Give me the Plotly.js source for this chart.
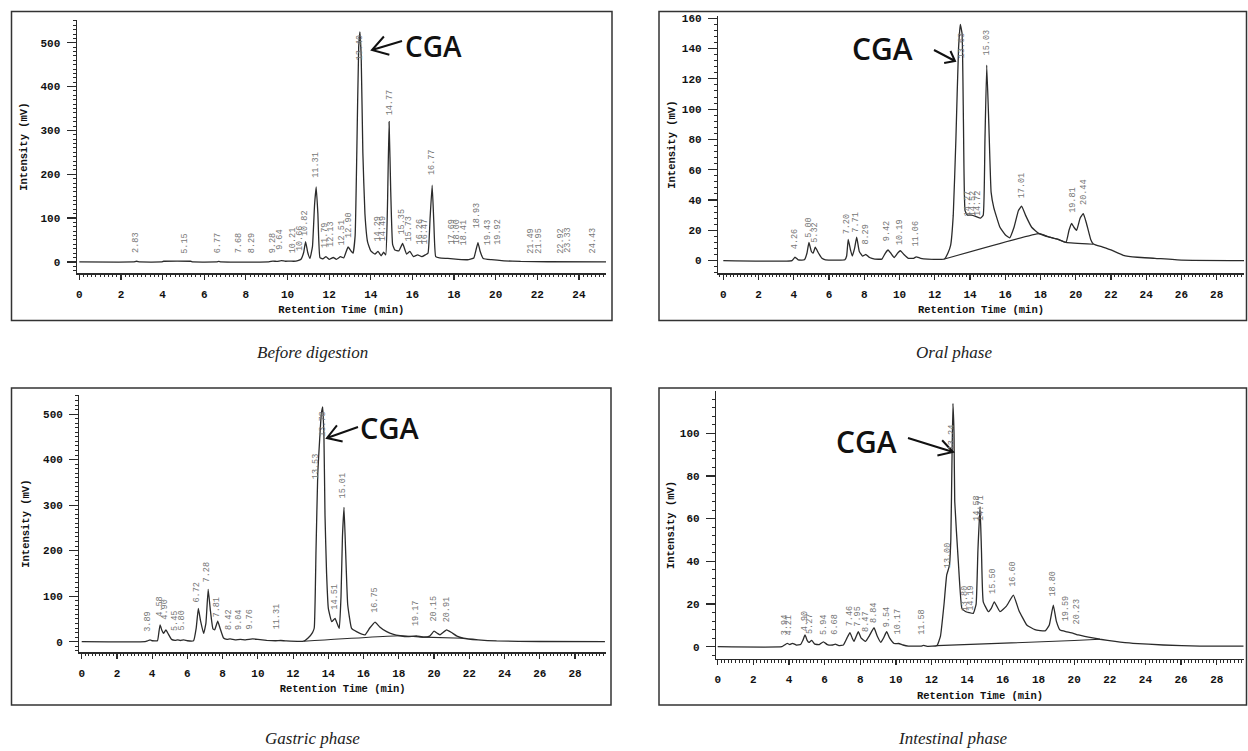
<!DOCTYPE html>
<html>
<head>
<meta charset="utf-8">
<script src="https://cdn.plot.ly/plotly-3.0.1.min.js"></script>
<style>html,body{margin:0;padding:0;background:#fff;}#chart{width:1248px;height:751px;}</style>
</head>
<body>
<div id="chart"></div>
<script>
// ---------- DATA ----------
// Before digestion
const before_t  = [0, 2.6, 2.75, 2.9, 3.95, 4.05, 5.35, 5.45, 6.6, 6.7, 6.8, 9.1, 9.3, 9.5, 9.7, 9.9, 10.1, 10.3, 10.5, 10.65, 10.78, 10.87, 10.97, 11.08, 11.2, 11.3, 11.38, 11.46, 11.56, 11.7, 11.85, 12.0, 12.2, 12.35, 12.55, 12.7, 12.91, 13.05, 13.15, 13.25, 13.33, 13.42, 13.48, 13.54, 13.62, 13.72, 13.85, 14.0, 14.2, 14.35, 14.5, 14.62, 14.72, 14.8, 14.88, 14.96, 15.05, 15.16, 15.35, 15.53, 15.72, 15.88, 16.05, 16.25, 16.45, 16.62, 16.75, 16.85, 16.95, 17.03, 17.12, 17.3, 17.7, 18.2, 18.7, 18.95, 19.07, 19.15, 19.25, 19.4, 19.8, 20.4, 21.2, 22.5, 25.3];
const before_mv = [0, 0, 1.5, 0, 0, 1.5, 1.5, 0, 0, 1, 0, 0, 2, 1, 3, 1.5, 2, 1.5, 3, 6, 22, 46, 22, 8, 35, 130, 171, 110, 10, 7, 12, 6, 10, 6, 12, 9, 34, 25, 20, 60, 250, 490, 525, 470, 250, 110, 45, 25, 18, 24, 14, 22, 16, 120, 320, 160, 40, 27, 25, 42, 18, 24, 12, 16, 12, 16, 20, 100, 175, 90, 12, 9, 8, 6, 5, 9, 30, 44, 25, 8, 5, 2.5, 1, 0.3, 0];
const before_lbl    = ["2.83","5.15","6.77","7.68","8.29","9.28","9.64","10.21","10.66","10.82","11.31","11.79","12.13","12.51","12.90","13.40","14.29","14.49","14.77","15.35","15.73","16.26","16.47","16.77","17.69","18.00","18.41","18.93","19.43","19.92","21.49","21.95","22.92","23.33","24.43"];
const before_lbl_t  = [2.75, 5.1, 6.66, 7.67, 8.29, 9.3, 9.67, 10.26, 10.6, 10.85, 11.36, 11.8, 12.1, 12.6, 12.95, 13.48, 14.35, 14.63, 14.9, 15.48, 15.84, 16.36, 16.6, 16.95, 17.88, 18.12, 18.5, 19.1, 19.64, 20.1, 21.72, 22.1, 23.16, 23.5, 24.68];
const before_lbl_mv = [15, 15, 15, 15, 15, 15, 22, 15, 20, 55, 187, 27, 30, 32, 50, 455, 42, 42, 331, 57, 42, 35, 35, 194, 34, 34, 34, 72, 34, 34, 15, 15, 15, 15, 15];

// Oral phase
const oral_t  = [0, 3.9, 4.07, 4.25, 4.6, 4.75, 4.86, 5.0, 5.1, 5.22, 5.4, 5.6, 5.8, 6.9, 7.0, 7.09, 7.22, 7.32, 7.45, 7.57, 7.72, 7.9, 8.1, 8.3, 8.6, 9.0, 9.2, 9.35, 9.5, 9.7, 9.9, 10.05, 10.25, 10.5, 10.8, 10.95, 11.2, 11.6, 12.55, 12.75, 12.9, 13.05, 13.2, 13.35, 13.45, 13.55, 13.63, 13.72, 13.85, 14.1, 14.35, 14.6, 14.75, 14.85, 14.95, 15.07, 15.2, 15.35, 15.7, 16.0, 16.25, 16.5, 16.75, 16.93, 17.15, 17.5, 17.9, 18.5, 19.0, 19.45, 19.62, 19.77, 19.9, 20.05, 20.25, 20.43, 20.6, 20.85, 21.0, 21.5, 22.0, 22.7, 23.5, 24.5, 26.0, 29.6];
const oral_mv = [0, 0, 2.2, 0.5, 0.5, 5, 12, 6, 5, 8.8, 5, 1.5, 0.5, 0.5, 3, 14, 7, 3, 8, 15.5, 6, 3, 4, 2, 1, 1, 5, 7, 5, 2, 5, 6.5, 4, 1.5, 1.5, 2.5, 1.5, 1, 1, 5, 10, 30, 80, 140, 156, 150, 90, 33, 30, 30, 29, 28, 30, 80, 129, 90, 45, 35, 22, 17, 15, 22, 33, 36, 30, 22, 18, 15.5, 14, 12, 20, 24.5, 22, 20, 28, 31, 25, 14, 11, 9, 7, 3.5, 2.2, 1.5, 0.3, 0];
const oral_base_t  = [12.55, 17.95, 18.5, 19.0, 19.45, 21.0];
const oral_base_mv = [1, 17.8, 15.5, 14, 12, 10.8];
const oral_lbl    = ["4.26","5.00","5.32","7.20","7.71","8.29","9.42","10.19","11.06","13.63","14.27","14.52","14.72","15.03","17.01","19.81","20.44"];
const oral_lbl_t  = [4.11, 4.86, 5.2, 7.02, 7.52, 8.08, 9.31, 10.03, 10.94, 13.53, 13.9, 14.18, 14.45, 14.95, 16.97, 19.83, 20.43];
const oral_lbl_mv = [6, 13.7, 10.4, 16, 17, 9, 11.7, 9, 8, 132, 28, 28, 28, 134, 40, 30, 35.6];

// Gastric phase
const gastric_t  = [0, 3.6, 3.75, 3.88, 4.0, 4.3, 4.38, 4.45, 4.55, 4.65, 4.78, 4.9, 5.1, 5.3, 5.45, 5.6, 5.8, 6.0, 6.35, 6.5, 6.62, 6.75, 6.92, 7.05, 7.18, 7.3, 7.45, 7.55, 7.72, 7.85, 8.05, 8.25, 8.42, 8.7, 9.0, 9.3, 9.7, 10.0, 10.5, 11.0, 11.3, 11.6, 12.6, 12.85, 13.1, 13.2, 13.3, 13.4, 13.5, 13.6, 13.68, 13.75, 13.81, 13.9, 14.0, 14.19, 14.38, 14.5, 14.62, 14.72, 14.8, 14.89, 14.98, 15.1, 15.32, 15.6, 16.08, 16.35, 16.65, 16.9, 17.31, 17.7, 18.07, 18.5, 19.0, 19.4, 19.75, 20.0, 20.2, 20.34, 20.71, 21.0, 21.3, 21.66, 22.5, 23.55, 26.0, 29.7];
const gastric_mv = [0, 0, 2, 4, 2, 2, 20, 37, 25, 18, 26, 18, 5, 3, 4, 2.5, 4, 2, 2, 30, 73, 45, 18, 40, 115, 70, 28, 26, 45, 30, 8, 5, 6, 4, 5, 4, 6, 5, 3, 2, 2.5, 1.5, 1, 8, 20, 30, 200, 370, 440, 500, 516, 450, 278, 150, 73, 44, 51, 40, 29, 100, 230, 295, 200, 81, 29, 22, 15, 30, 43, 33, 22, 16, 13, 11, 12.5, 10, 12, 23, 18, 15, 26, 20, 12, 7.5, 4, 1.5, 0.3, 0];
const gastric_base_t  = [12.6, 18.07, 19.4, 21.66];
const gastric_base_mv = [1, 13, 10, 7.5];
const gastric_lbl    = ["3.89","4.58","4.90","5.45","5.80","6.72","7.28","7.81","8.42","9.04","9.76","11.31","13.53","13.78","14.51","15.01","16.75","19.17","20.15","20.91"];
const gastric_lbl_t  = [3.78, 4.44, 4.73, 5.3, 5.67, 6.53, 7.09, 7.66, 8.32, 8.89, 9.55, 11.07, 13.34, 13.68, 14.38, 14.85, 16.65, 19.01, 20.0, 20.71];
const gastric_lbl_mv = [18, 50, 44, 19, 19, 81, 125, 48, 22, 22, 22, 22, 352, 445, 66, 311, 59, 29, 40, 37];

// Intestinal phase
const intest_t  = [0, 3.6, 3.75, 3.9, 4.05, 4.2, 4.4, 4.65, 4.78, 4.9, 5.02, 5.12, 5.27, 5.45, 5.7, 5.93, 6.15, 6.45, 6.6, 6.8, 7.05, 7.25, 7.42, 7.55, 7.65, 7.78, 7.89, 8.05, 8.3, 8.5, 8.77, 8.95, 9.15, 9.3, 9.48, 9.65, 9.9, 10.15, 10.4, 10.7, 11.4, 11.55, 11.75, 12.3, 12.5, 12.7, 12.85, 13.0, 13.08, 13.15, 13.2, 13.26, 13.3, 13.5, 13.7, 13.9, 14.1, 14.34, 14.5, 14.6, 14.72, 14.8, 14.9, 15.19, 15.35, 15.52, 15.84, 16.2, 16.59, 16.9, 17.34, 17.8, 18.37, 18.6, 18.83, 19.0, 19.21, 19.59, 19.95, 20.23, 20.8, 21.45, 22.3, 23.3, 25.0, 27.06, 29.5];
const intest_mv = [0, 0, 0.8, 1.6, 1.0, 1.6, 0.8, 1, 3, 5.5, 3, 2, 3, 1.2, 1, 2.3, 1, 0.8, 1.2, 0.5, 0.8, 4, 6.6, 4, 2.5, 5, 7, 4, 2.5, 5, 8.9, 5, 2, 4, 7, 4, 1.5, 1.5, 0.8, 0.3, 0.3, 0.6, 0.2, 0.5, 5, 20, 33.6, 38, 50, 90, 114, 100, 68, 40, 18, 16.5, 16, 15.6, 20, 45, 65.6, 45, 21, 16.4, 18, 21, 16.4, 19, 24.2, 17, 10.2, 8, 7.4, 10, 19.5, 12, 7.8, 7, 6.3, 5.5, 4.5, 3.5, 2.5, 1.6, 0.8, 0.3, 0.3];
const intest_base_t  = [12.3, 20.0, 21.45];
const intest_base_mv = [0.5, 2.9, 3.5];
const intest_lbl    = ["3.94","4.21","4.90","5.27","5.94","6.68","7.46","7.95","8.47","8.84","9.54","10.17","11.58","13.00","13.24","13.80","14.19","14.58","14.71","15.50","16.60","18.80","19.59","20.23"];
const intest_lbl_t  = [3.78, 4.02, 4.9, 5.18, 5.93, 6.58, 7.42, 7.89, 8.32, 8.77, 9.48, 10.14, 11.45, 12.94, 13.19, 13.88, 14.25, 14.55, 14.78, 15.47, 16.59, 18.83, 19.55, 20.15];
const intest_lbl_mv = [4.5, 4.5, 6.3, 5, 4.7, 4.7, 8.6, 8.6, 6, 10.2, 8, 5, 4.5, 36, 91, 15.7, 15.7, 58, 58, 24, 27.3, 22.7, 11, 9.4];

const captions = ["Before digestion", "Oral phase", "Gastric phase", "Intestinal phase"];
const xTitle = "Retention Time (min)";
const yTitle = "Intensity (mV)";
const peakName = "CGA";

// ---------- LAYOUT HELPERS ----------
const W = 1248, H = 751;
const px = x => x / W, py = y => 1 - y / H;
const monoB = {family: "Liberation Mono, DejaVu Sans Mono, monospace", size: 11, color: "#111", weight: 700};
const lineC = "#2a2a2a";

function xAxis(d0, d1, r0, r1, anchor) {
  return {domain: [px(d0), px(d1)], range: [r0, r1], anchor: anchor,
    showline: true, linecolor: lineC, linewidth: 1.2, mirror: false,
    ticks: "outside", ticklen: 5, tickwidth: 1.2, tickcolor: lineC, tick0: 0, dtick: 2,
    ticklabelstandoff: 5, tickfont: monoB,
    minor: {dtick: 0.2, ticks: "outside", ticklen: 2.5, tickwidth: 1, tickcolor: lineC},
    showgrid: false, zeroline: false, fixedrange: true,
    title: {text: xTitle, font: {family: monoB.family, size: 10.5, color: "#111", weight: 700}, standoff: 6}};
}
function yAxis(d0, d1, r0, r1, anchor, dt, mdt, so) {
  return {domain: [py(d1), py(d0)], range: [r0, r1], anchor: anchor,
    showline: true, linecolor: lineC, linewidth: 1.2,
    ticks: "outside", ticklen: 9, tickwidth: 1.2, tickcolor: lineC, tick0: 0, dtick: dt,
    ticklabelstandoff: 4, tickfont: monoB,
    minor: {dtick: mdt, ticks: "outside", ticklen: 3, tickwidth: 1, tickcolor: lineC},
    showgrid: false, zeroline: false, fixedrange: true,
    title: {text: yTitle, font: {family: monoB.family, size: 10.5, color: "#111", weight: 700}, standoff: so}};
}

function trace(t, v, xa, ya, w) {
  return {x: t, y: v, xaxis: xa, yaxis: ya, type: "scatter", mode: "lines",
    line: {color: "#2b2b2b", width: w || 1.3, shape: "spline", smoothing: 0.35},
    hoverinfo: "skip", showlegend: false};
}

const data = [
  trace(before_t, before_mv, "x", "y"),
  trace(oral_t, oral_mv, "x2", "y2"),
  trace(oral_base_t, oral_base_mv, "x2", "y2", 1.1),
  trace(gastric_t, gastric_mv, "x3", "y3"),
  trace(gastric_base_t, gastric_base_mv, "x3", "y3", 1.1),
  trace(intest_t, intest_mv, "x4", "y4"),
  trace(intest_base_t, intest_base_mv, "x4", "y4", 1.1)
];

const annotations = [];
function peakLabels(txt, t, v, xr, yr) {
  for (let i = 0; i < txt.length; i++) {
    annotations.push({text: txt[i], x: t[i], y: v[i], xref: xr, yref: yr,
      textangle: -90, xanchor: "center", yanchor: "bottom", showarrow: false,
      font: {family: "Liberation Mono, monospace", size: 8.5, color: "#777"}});
  }
}
peakLabels(before_lbl, before_lbl_t, before_lbl_mv, "x", "y");
peakLabels(oral_lbl, oral_lbl_t, oral_lbl_mv, "x2", "y2");
peakLabels(gastric_lbl, gastric_lbl_t, gastric_lbl_mv, "x3", "y3");
peakLabels(intest_lbl, intest_lbl_t, intest_lbl_mv, "x4", "y4");

// CGA labels
const cgaPos = [[433, 46.5, 28], [882, 49, 30], [389, 427, 29], [866, 441, 30]];
cgaPos.forEach(p => annotations.push({text: peakName, x: px(p[0]), y: py(p[1]), xref: "paper", yref: "paper",
  xanchor: "center", yanchor: "middle", showarrow: false,
  font: {family: "Open Sans, Liberation Sans, sans-serif", size: p[2], color: "#111", weight: 600}}));

// captions
const capPos = [[312, 352], [954, 352], [312, 738], [953, 738]];
captions.forEach((c, i) => annotations.push({text: c, x: px(capPos[i][0]), y: py(capPos[i][1]), xref: "paper", yref: "paper",
  xanchor: "center", yanchor: "middle", showarrow: false,
  font: {family: "Liberation Serif, DejaVu Serif, serif", size: 17, color: "#222", style: "italic"}}));

// shapes: panel frames and arrows
const shapes = [];
[[11.5, 11.5, 612, 320.5], [659, 11.5, 1246.5, 320.5], [11.5, 388, 611, 705], [659, 388, 1246.5, 705]].forEach(b =>
  shapes.push({type: "rect", xref: "paper", yref: "paper", x0: px(b[0]), x1: px(b[2]), y0: py(b[3]), y1: py(b[1]),
    line: {color: "#333", width: 1.5}, fillcolor: "rgba(0,0,0,0)"}));

function arrowPath(tip, tail, L, ang) {
  const dx = tail[0] - tip[0], dy = tail[1] - tip[1], n = Math.hypot(dx, dy);
  const ux = dx / n, uy = dy / n, a = ang * Math.PI / 180, c = Math.cos(a), s = Math.sin(a);
  const a1 = [tip[0] + L * (ux * c - uy * s), tip[1] + L * (ux * s + uy * c)];
  const a2 = [tip[0] + L * (ux * c + uy * s), tip[1] + L * (-ux * s + uy * c)];
  const f = p => px(p[0]).toFixed(5) + "," + py(p[1]).toFixed(5);
  return "M" + f(tail) + "L" + f(tip) + "M" + f(a1) + "L" + f(tip) + "L" + f(a2);
}
[[[372, 50], [402, 41], 18, 32], [[955, 61], [934, 50], 11, 38], [[327, 438], [358, 427], 16, 32], [[953, 452], [908, 438], 16, 30]]
  .forEach(a => shapes.push({type: "path", xref: "paper", yref: "paper", path: arrowPath(a[0], a[1], a[2], a[3]),
    line: {color: "#111", width: 2}}));

const layout = {
  width: W, height: H, margin: {l: 0, r: 0, t: 0, b: 0},
  paper_bgcolor: "#fff", plot_bgcolor: "#fff", showlegend: false,
  xaxis:  xAxis(76.7, 606, -0.125, 25.3, "y"),
  yaxis:  yAxis(20, 273.3, -26, 552, "x", 100, 10, 10),
  xaxis2: xAxis(718, 1244, -0.3, 29.55, "y2"),
  yaxis2: yAxis(16, 273.3, -8.4, 161.5, "x2", 20, 4, 4),
  xaxis3: xAxis(79.3, 606, -0.136, 29.76, "y3"),
  yaxis3: yAxis(395, 652.3, -23.4, 542, "x3", 100, 10, 11),
  xaxis4: xAxis(716, 1244, -0.095, 29.53, "y4"),
  yaxis4: yAxis(391, 659, -5.76, 119.8, "x4", 20, 4, 3),
  annotations: annotations, shapes: shapes
};

Plotly.newPlot("chart", data, layout, {staticPlot: true, displayModeBar: false});
</script>
</body>
</html>
